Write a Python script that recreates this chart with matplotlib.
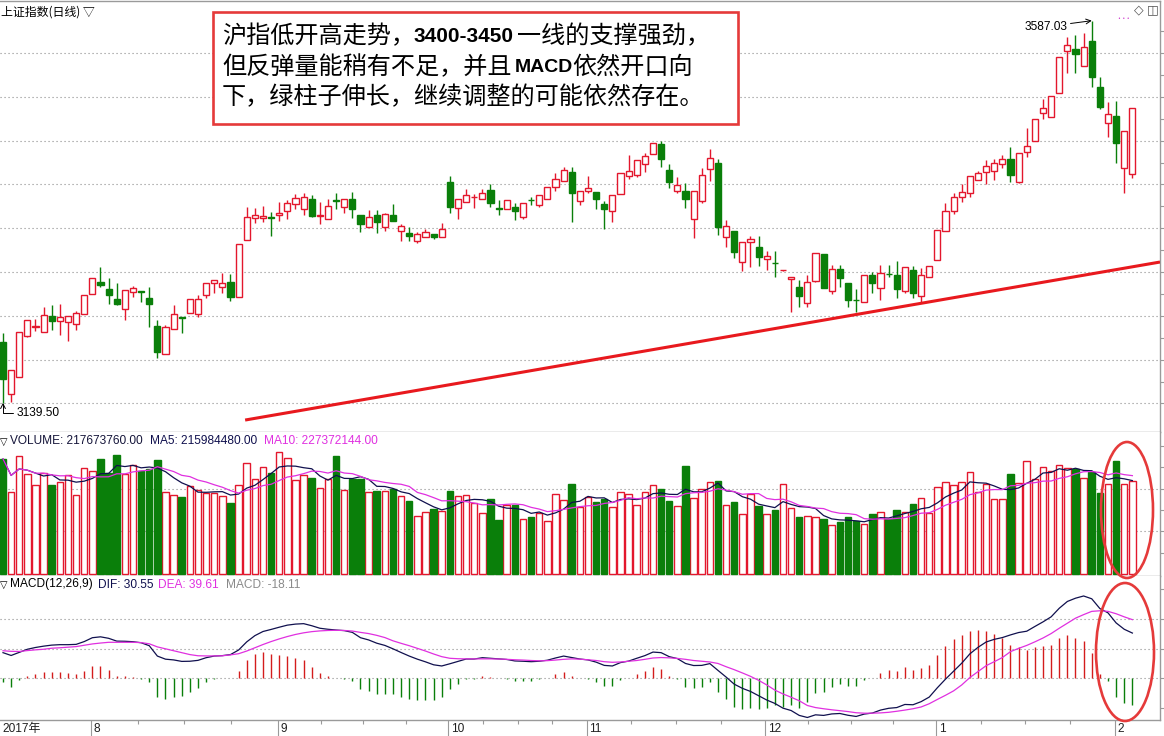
import matplotlib
matplotlib.use("Agg")
import matplotlib.pyplot as plt
from matplotlib.patches import Rectangle, Ellipse
import numpy as np
import pandas as pd

plt.rcParams['font.family'] = ['Liberation Sans', 'Noto Sans CJK SC', 'DejaVu Sans']

# ------------------------------------------------------------------ data
open_ = [3211.0, 3149.3, 3170.0, 3218.0, 3228.5, 3222.0, 3241.1, 3235.6, 3234.4, 3231.4,
         3243.8, 3266.5, 3281.3, 3272.4, 3260.6, 3248.9, 3268.8, 3270.7, 3261.8, 3229.4,
         3196.2, 3225.5, 3239.9, 3245.0, 3243.4, 3265.7, 3279.4, 3275.4, 3280.9, 3263.0,
         3329.8, 3355.5, 3355.5, 3356.7, 3359.4, 3364.1, 3371.9, 3366.1, 3378.1, 3358.2,
         3354.7, 3376.6, 3368.4, 3377.8, 3359.0, 3345.7, 3359.0, 3345.7, 3359.4, 3340.3,
         3338.0, 3329.3, 3334.0, 3336.8, 3333.3, 3398.1, 3367.2, 3375.0, 3380.5, 3378.5,
         3388.3, 3367.2, 3366.8, 3368.4, 3357.4, 3377.0, 3370.8, 3378.5, 3391.9, 3398.9,
         3409.8, 3375.4, 3387.5, 3386.0, 3372.3, 3363.7, 3383.7, 3405.1, 3405.9, 3418.8,
         3430.9, 3442.6, 3412.1, 3387.5, 3387.5, 3355.1, 3376.2, 3412.9, 3419.9, 3333.3,
         3340.3, 3304.3, 3328.1, 3321.5, 3307.5, 3302.8, 3294.4, 3284.1, 3274.7, 3256.0,
         3282.4, 3313.7, 3270.0, 3295.8, 3279.4, 3259.8, 3257.1, 3288.8, 3273.9, 3290.3,
         3289.1, 3270.0, 3294.9, 3264.5, 3287.1, 3306.7, 3341.0, 3364.4, 3380.8, 3385.5,
         3400.4, 3409.4, 3410.6, 3418.8, 3424.6, 3398.4, 3433.6, 3445.8, 3478.5, 3473.9,
         3502.0, 3551.9, 3553.5, 3533.9, 3563.2, 3509.0, 3466.8, 3475.4, 3414.1, 3407.4]
high_ = [3221.5, 3177.8, 3222.3, 3236.4, 3237.6, 3252.0, 3254.0, 3255.2, 3241.1, 3247.0,
         3265.7, 3285.2, 3298.8, 3285.2, 3279.4, 3271.5, 3276.2, 3270.7, 3274.7, 3236.4,
         3230.5, 3253.6, 3239.9, 3260.6, 3265.7, 3279.4, 3283.3, 3291.8, 3290.3, 3325.1,
         3368.4, 3367.6, 3369.9, 3363.3, 3374.6, 3376.4, 3384.0, 3385.5, 3382.8, 3374.3,
         3377.8, 3385.5, 3378.5, 3386.7, 3359.0, 3365.3, 3365.3, 3362.1, 3372.3, 3348.9,
         3345.0, 3339.8, 3343.0, 3336.8, 3349.7, 3405.1, 3377.8, 3389.5, 3384.0, 3389.5,
         3395.4, 3377.0, 3377.0, 3373.8, 3373.1, 3380.8, 3382.5, 3391.9, 3408.9, 3415.3,
         3415.3, 3387.9, 3405.1, 3386.0, 3376.2, 3382.5, 3408.9, 3429.7, 3423.5, 3432.4,
         3444.1, 3446.4, 3419.1, 3403.6, 3397.2, 3387.5, 3414.1, 3436.4, 3424.6, 3353.5,
         3340.3, 3327.4, 3334.8, 3334.8, 3317.2, 3317.2, 3295.5, 3286.8, 3283.3, 3288.8,
         3315.2, 3313.7, 3301.2, 3301.2, 3279.4, 3273.1, 3288.8, 3292.6, 3300.8, 3300.8,
         3305.1, 3298.1, 3300.0, 3296.9, 3299.7, 3341.8, 3373.8, 3385.5, 3395.7, 3405.1,
         3411.3, 3423.8, 3424.6, 3429.7, 3439.4, 3432.4, 3461.0, 3471.5, 3494.9, 3498.8,
         3544.9, 3568.3, 3570.3, 3572.2, 3587.03, 3520.7, 3491.4, 3493.3, 3458.1, 3484.4]
low_ = [3139.5, 3140.3, 3170.0, 3216.8, 3223.9, 3222.0, 3224.7, 3219.2, 3212.2, 3224.7,
        3243.8, 3266.5, 3274.7, 3254.8, 3253.6, 3236.4, 3263.0, 3257.8, 3227.8, 3191.5,
        3196.2, 3225.5, 3220.8, 3244.3, 3240.3, 3262.5, 3267.7, 3267.7, 3258.7, 3263.0,
        3329.8, 3349.7, 3351.6, 3335.2, 3352.7, 3354.4, 3366.1, 3359.4, 3357.4, 3348.5,
        3354.7, 3366.1, 3361.4, 3356.2, 3339.8, 3345.7, 3338.6, 3341.0, 3352.4, 3329.3,
        3329.3, 3327.0, 3334.0, 3330.9, 3333.3, 3362.1, 3354.4, 3375.0, 3367.9, 3378.5,
        3369.1, 3359.4, 3366.8, 3353.5, 3354.4, 3371.1, 3368.4, 3377.8, 3387.2, 3398.9,
        3351.5, 3371.5, 3384.8, 3366.8, 3342.6, 3351.5, 3383.7, 3401.2, 3404.3, 3410.1,
        3430.9, 3416.0, 3391.4, 3385.5, 3367.9, 3332.1, 3373.1, 3399.6, 3336.0, 3322.3,
        3308.7, 3294.2, 3298.8, 3299.7, 3294.9, 3286.4, 3294.2, 3246.1, 3251.3, 3251.3,
        3281.3, 3273.5, 3266.5, 3275.4, 3252.0, 3246.1, 3257.1, 3268.4, 3259.8, 3287.1,
        3262.2, 3267.7, 3262.2, 3256.7, 3287.1, 3306.7, 3341.0, 3360.6, 3375.0, 3380.2,
        3400.4, 3395.4, 3400.4, 3414.1, 3398.4, 3397.2, 3427.0, 3445.8, 3471.5, 3473.9,
        3502.0, 3526.1, 3526.1, 3533.9, 3509.0, 3483.2, 3451.1, 3420.7, 3384.8, 3402.4]
close_ = [3166.9, 3177.8, 3222.0, 3236.4, 3229.4, 3242.3, 3235.6, 3239.5, 3241.1, 3244.3,
          3265.7, 3285.2, 3277.4, 3265.7, 3254.8, 3271.5, 3273.5, 3269.2, 3254.8, 3199.2,
          3228.5, 3243.1, 3238.4, 3260.6, 3260.6, 3279.4, 3283.3, 3280.1, 3263.7, 3325.1,
          3356.7, 3359.4, 3358.2, 3355.5, 3361.4, 3373.8, 3379.0, 3380.2, 3358.6, 3359.0,
          3370.3, 3375.8, 3378.5, 3366.8, 3348.5, 3356.7, 3351.5, 3360.2, 3352.4, 3346.5,
          3335.2, 3337.2, 3339.1, 3334.0, 3342.6, 3369.1, 3377.8, 3382.5, 3380.8, 3385.5,
          3373.8, 3366.8, 3377.0, 3364.4, 3373.1, 3376.6, 3382.5, 3391.9, 3401.9, 3412.1,
          3385.5, 3387.9, 3390.7, 3378.5, 3366.8, 3382.5, 3408.9, 3410.6, 3423.5, 3428.5,
          3444.1, 3425.3, 3398.4, 3394.2, 3378.5, 3387.5, 3406.3, 3425.8, 3345.7, 3346.9,
          3316.4, 3327.4, 3331.3, 3310.5, 3311.4, 3302.6, 3295.3, 3286.8, 3264.9, 3281.3,
          3315.2, 3273.5, 3295.8, 3285.6, 3259.8, 3259.5, 3288.8, 3280.1, 3291.8, 3289.9,
          3273.1, 3298.1, 3268.4, 3288.8, 3299.7, 3341.8, 3364.1, 3380.2, 3386.0, 3405.1,
          3408.9, 3417.2, 3420.7, 3424.6, 3406.6, 3432.4, 3440.6, 3471.5, 3484.4, 3498.8,
          3544.9, 3558.2, 3547.7, 3556.5, 3521.4, 3485.6, 3477.4, 3444.1, 3458.1, 3484.4]

# volume, millions of lots
volume_m = [269.3, 192.8, 276.3, 234.2, 208.4, 235.7, 208.4, 214.6, 231.8, 185.0,
            247.4, 240.4, 269.3, 235.7, 278.6, 234.2, 254.4, 240.4, 245.1, 266.9,
            191.2, 184.2, 180.3, 206.0, 196.7, 189.6, 189.6, 182.6, 166.2, 208.4,
            259.1, 222.4, 249.8, 237.3, 284.9, 270.8, 220.1, 231.8, 224.8, 200.6,
            221.7, 276.3, 196.7, 222.4, 222.4, 191.2, 194.3, 194.3, 199.8, 182.6,
            170.9, 135.8, 145.1, 152.2, 147.5, 194.3, 182.6, 184.2, 165.4, 142.8,
            175.6, 126.4, 160.8, 161.6, 128.8, 132.7, 142.0, 124.8, 187.3, 173.3,
            210.7, 156.1, 181.1, 169.3, 174.8, 156.1, 192.0, 187.3, 161.5, 192.0,
            208.4, 199.8, 171.7, 159.2, 253.7, 177.9, 199.8, 215.4, 218.5, 161.5,
            169.3, 140.5, 186.5, 160.0, 140.5, 149.8, 210.7, 153.7, 134.2, 135.8,
            132.7, 128.0, 114.7, 122.5, 132.7, 124.8, 117.0, 140.5, 145.1, 128.0,
            149.8, 145.1, 163.9, 177.2, 143.6, 202.9, 214.6, 208.4, 214.6, 238.1,
            192.8, 209.9, 175.6, 175.6, 234.2, 212.3, 264.6, 221.7, 249.8, 241.2,
            255.2, 247.4, 245.1, 224.0, 238.1, 190.4, 210.7, 264.6, 210.7, 217.67]

dif = [17.3, 15.4, 17.5, 19.6, 20.8, 21.7, 22.4, 22.7, 22.7, 22.9,
       24.8, 27.4, 28.0, 27.0, 25.1, 25.0, 24.7, 24.0, 22.0, 15.0,
       12.9, 12.4, 11.4, 11.5, 12.1, 13.9, 15.0, 15.3, 16.0, 19.1,
       24.6, 28.8, 31.6, 33.0, 34.5, 35.9, 36.6, 36.9, 35.5, 33.8,
       33.1, 32.6, 32.2, 31.0, 27.4, 25.9, 23.7, 22.2, 19.9, 17.4,
       15.0, 12.9, 11.1, 9.1, 8.3, 9.8, 11.4, 13.0, 13.0, 13.9,
       13.5, 13.1, 12.7, 11.7, 11.5, 11.2, 11.5, 12.2, 13.7, 15.0,
       14.0, 13.0, 12.4, 10.9, 8.7, 8.3, 10.6, 11.6, 13.5, 15.3,
       17.7, 17.3, 14.6, 13.3, 10.0, 8.6, 8.7, 9.9, 5.3, 0.8,
       -4.0, -6.8, -8.9, -11.8, -14.7, -17.0, -20.2, -21.8, -25.1, -26.5,
       -24.7, -25.1, -24.1, -23.8, -25.0, -25.8, -24.2, -23.5, -21.5, -20.3,
       -19.8, -17.7, -17.9, -15.8, -12.7, -6.4, -0.6, 4.8, 10.2, 16.5,
       20.9, 24.5, 26.3, 27.5, 29.3, 30.9, 31.8, 35.0, 38.1, 41.5,
       47.3, 51.9, 54.1, 55.6, 53.7, 47.1, 44.2, 37.4, 33.1, 30.55]
dea = [18.6, 18.2, 18.1, 18.7, 19.2, 19.6, 20.3, 20.6, 21.0, 21.4,
       22.3, 23.2, 23.8, 24.3, 24.3, 24.3, 24.3, 24.1, 23.3, 21.2,
       19.9, 18.6, 17.3, 16.0, 15.2, 15.1, 15.1, 15.2, 15.8, 16.6,
       18.4, 20.6, 22.8, 24.8, 26.6, 28.2, 29.6, 30.7, 31.5, 32.0,
       32.3, 32.4, 32.3, 31.9, 31.0, 30.2, 29.0, 27.5, 25.3, 23.6,
       22.0, 20.2, 18.4, 16.4, 14.6, 13.5, 13.2, 13.1, 13.1, 13.1,
       13.1, 13.0, 12.8, 12.5, 12.3, 12.0, 11.8, 11.9, 12.3, 12.8,
       13.1, 12.9, 12.5, 12.0, 11.2, 10.8, 11.0, 11.5, 12.0, 12.8,
       13.7, 14.0, 13.8, 13.4, 12.8, 12.0, 11.5, 11.0, 10.0, 7.8,
       5.8, 3.6, 1.3, -1.4, -4.5, -8.0, -10.6, -12.8, -15.2, -18.4,
       -19.8, -20.6, -21.3, -21.9, -22.5, -23.3, -23.6, -23.6, -23.4, -23.0,
       -22.3, -21.5, -20.6, -19.4, -17.2, -14.3, -11.5, -8.5, -4.5, 0.5,
       4.5, 8.5, 11.2, 14.0, 18.0, 20.2, 22.2, 24.6, 27.2, 30.2,
       33.8, 37.2, 40.6, 43.0, 45.2, 45.6, 45.2, 43.6, 41.5, 39.61]
macd_bar = [-2.7, -5.6, -1.1, 1.8, 3.2, 4.1, 4.1, 4.1, 3.4, 2.9,
            5.0, 8.3, 8.3, 5.4, 1.6, 1.4, 0.7, -0.3, -2.7, -12.4,
            -14.0, -12.4, -11.9, -9.0, -6.3, -2.3, -0.3, 0.2, 0.3, 5.0,
            12.4, 16.4, 17.6, 16.4, 15.8, 15.3, 14.0, 12.4, 7.9, 3.6,
            1.6, 0.3, -0.2, -1.8, -7.2, -8.6, -10.6, -10.6, -10.8, -12.4,
            -14.0, -14.6, -14.6, -14.6, -12.6, -7.4, -3.6, -0.3, -0.2, 1.6,
            0.7, 0.2, -0.2, -1.6, -1.6, -1.6, -0.7, 0.5, 2.7, 4.3,
            1.8, 0.2, -0.3, -2.3, -5.0, -5.0, -0.9, 0.2, 2.9, 5.0,
            7.9, 6.5, 1.6, -0.3, -5.6, -6.8, -5.6, -2.3, -9.5, -14.0,
            -19.6, -20.7, -20.3, -20.7, -20.3, -18.0, -19.1, -18.0, -19.8, -16.2,
            -9.7, -9.0, -5.6, -3.8, -5.0, -5.0, -1.1, 0.2, 3.8, 5.4,
            5.0, 7.7, 5.4, 7.2, 9.0, 15.8, 21.8, 26.6, 29.3, 32.0,
            32.7, 32.0, 30.2, 27.0, 22.5, 21.4, 19.1, 20.9, 21.8, 22.5,
            27.0, 29.3, 27.0, 25.2, 16.9, 3.0, -2.0, -12.4, -16.9, -18.11]

month_first_idx = [11, 34, 55, 72, 94, 115, 137]
month_labels = ['8', '9', '10', '11', '12', '1', '2']
year_label = '2017年'
title_text = '上证指数(日线) ▽'
vol_header = ['VOLUME: 217673760.00', 'MA5: 215984480.00', 'MA10: 227372144.00']
macd_header = ['MACD(12,26,9)', 'DIF: 30.55', 'DEA: 39.61', 'MACD: -18.11']
peak_label = '3587.03'
low_label = '3139.50'
trend_idx = [29.8, 142.4]
trend_price = [3119.2, 3304.3]
note_line1 = ['沪指低开高走势，', '3400-3450', '一线的支撑强劲，']
note_line2 = ['但反弹量能稍有不足，并且', 'MACD', '依然开口向']
note_line3 = '下，绿柱子伸长，继续调整的可能依然存在。'

# ------------------------------------------------------------------ style
W, H = 1164, 736
RED = '#e3172d'
GREEN = '#0a7f0a'
NAVY = '#10104e'
MAGENTA = '#e030e0'
GRID = '#8c8c8c'
BORDER = '#9a9a9a'
NOTE_RED = '#e53a3a'

fig = plt.figure(figsize=(W / 100, H / 100), dpi=100)
fig.patch.set_facecolor('white')


def fx(px):
    return px / W


def fy(py):
    return 1 - py / H


PLOT_R = 1160
ax1 = fig.add_axes([0, fy(432), fx(PLOT_R), (432 - 1) / H])
ax2 = fig.add_axes([0, fy(576), fx(PLOT_R), (576 - 432) / H])
ax3 = fig.add_axes([0, fy(720), fx(PLOT_R), (720 - 576) / H])

XMIN, XMAX = -0.369, 142.4
for ax in (ax1, ax2, ax3):
    ax.set_xlim(XMIN, XMAX)
    ax.set_facecolor('white')
    ax.spines['left'].set_visible(False)
    for s in ('top', 'bottom', 'right'):
        ax.spines[s].set_color(BORDER)
        ax.spines[s].set_linewidth(1.0)
    ax.tick_params(axis='x', which='both', bottom=False, labelbottom=False)
    ax.tick_params(axis='y', which='both', left=False, labelleft=False,
                   right=True, labelright=False, direction='out',
                   length=3, width=0.8, color=BORDER)
ax2.spines['top'].set_visible(False)
ax3.spines['top'].set_visible(False)

dotted = (0, (1, 2.6))

# ------------------------------------------------------------------ price panel
o = np.array(open_)
h = np.array(high_)
l = np.array(low_)
c = np.array(close_)
n = len(c)
x = np.arange(n)
is_up = c >= o
cols = np.where(is_up, RED, GREEN)

ax1.set_ylim(3105.2, 3610.1)
grid_levels = [3138.7, 3190.0, 3241.3, 3292.6, 3343.9, 3395.2, 3446.5, 3497.8, 3549.2]
for g in grid_levels:
    ax1.axhline(g, color=GRID, lw=0.8, ls=dotted, zorder=1)
ax1.set_yticks(grid_levels + [g + 25.65 for g in grid_levels])

ax1.vlines(x, l, h, colors=cols, linewidth=1.0, zorder=2)
bw = 0.74
for i in range(n):
    bottom = min(o[i], c[i])
    height = abs(c[i] - o[i])
    if is_up[i]:
        rect = Rectangle((i - bw / 2, bottom), bw, height, facecolor='white',
                         edgecolor=RED, linewidth=1.0, zorder=3)
    else:
        rect = Rectangle((i - bw / 2, bottom), bw, height, facecolor=GREEN,
                         edgecolor=GREEN, linewidth=1.0, zorder=3)
    ax1.add_patch(rect)

# support trend line
ax1.plot(trend_idx, trend_price, color='#e8191e', lw=2.2, zorder=4,
         solid_capstyle='butt')

# high / low labels
imax = int(np.argmax(h))
imin = int(np.argmin(l))
ax1.annotate(peak_label, xy=(imax, h[imax]), xytext=(-24, -6),
             textcoords='offset pixels', ha='right', va='center', fontsize=8.6,
             color='black',
             arrowprops=dict(arrowstyle='->', color='black', lw=0.7,
                             shrinkA=0, shrinkB=0))
ax1.annotate(low_label, xy=(imin, l[imin]), xytext=(14, -10),
             textcoords='offset pixels', ha='left', va='center', fontsize=8.6,
             color='black',
             arrowprops=dict(arrowstyle='->', color='black', lw=0.7,
                             shrinkA=1, shrinkB=0,
                             connectionstyle='angle,angleA=180,angleB=90,rad=0'))

# ------------------------------------------------------------------ volume panel
vol = np.array(volume_m)
ax2.set_ylim(-4.7, 332.6)
for g in (100, 200):
    ax2.axhline(g, color=GRID, lw=0.8, ls=dotted, zorder=1)
ax2.set_yticks([50, 100, 150, 200, 250, 300])
vb = 0.8
ax2.bar(x[is_up], vol[is_up], width=vb, facecolor='white', edgecolor=RED,
        linewidth=1.0, zorder=2)
ax2.bar(x[~is_up], vol[~is_up], width=vb, facecolor=GREEN, edgecolor=GREEN,
        linewidth=1.0, zorder=2)
ma5 = pd.Series(vol).rolling(5, min_periods=1).mean()
ma10 = pd.Series(vol).rolling(10, min_periods=1).mean()
ax2.plot(x, ma5, color=NAVY, lw=0.9, zorder=3)
ax2.plot(x, ma10, color=MAGENTA, lw=0.9, zorder=3)

# ------------------------------------------------------------------ MACD panel
mb = np.array(macd_bar)
ax3.set_ylim(-28.2, 69.1)
for g in (0, 20, 40):
    ax3.axhline(g, color=GRID, lw=0.8, ls=dotted, zorder=1)
ax3.set_yticks([-20, 0, 20, 40, 60])
ax3.vlines(x, 0, mb, colors=np.where(mb >= 0, '#d41c1c', GREEN), linewidth=1.0,
           zorder=2)
ax3.plot(x, dif, color=NAVY, lw=0.9, zorder=3)
ax3.plot(x, dea, color=MAGENTA, lw=0.9, zorder=3)

# x axis ticks (months) on the bottom panel
major = [m - 0.17 for m in month_first_idx]
minor = []
for a, b in zip(major[:-1], major[1:]):
    step = (b - a) / 4
    minor += [a + step * k for k in (1, 2, 3)]
ax3.set_xticks(major)
ax3.set_xticks(minor, minor=True)
ax3.tick_params(axis='x', which='major', bottom=True, length=11.5, width=0.8,
                color=BORDER, labelbottom=False)
ax3.tick_params(axis='x', which='minor', bottom=True, length=3, width=0.8,
                color=BORDER, labelbottom=False)
for m, lab in zip(major, month_labels):
    ax3.text(m + 0.35, -0.0625, lab, transform=ax3.get_xaxis_transform(),
             ha='left', va='center', fontsize=8.6, color='#202020')
fig.text(fx(2), fy(729), year_label, ha='left', va='center', fontsize=8.6,
         color='#202020')

# ------------------------------------------------------------------ headers
fig.text(fx(1), fy(12), title_text, ha='left', va='center', fontsize=8.6,
         color='black', family=['Noto Sans CJK SC', 'DejaVu Sans'])

fig.text(fx(0), fy(441.5), '▽', ha='left', va='center', fontsize=7,
         color='black', family=['DejaVu Sans'])
fig.text(fx(10.5), fy(441.5), vol_header[0], ha='left', va='center',
         fontsize=8.6, color='#15153a')
fig.text(fx(150), fy(441.5), vol_header[1], ha='left', va='center',
         fontsize=8.6, color=NAVY)
fig.text(fx(264), fy(441.5), vol_header[2], ha='left', va='center',
         fontsize=8.6, color=MAGENTA)

fig.text(fx(0), fy(584.5), '▽', ha='left', va='center', fontsize=7,
         color='black', family=['DejaVu Sans'])
fig.text(fx(10.5), fy(584.5), macd_header[0], ha='left', va='center',
         fontsize=8.6, color='black')
fig.text(fx(98.5), fy(584.5), macd_header[1], ha='left', va='center',
         fontsize=8.6, color=NAVY)
fig.text(fx(158.5), fy(584.5), macd_header[2], ha='left', va='center',
         fontsize=8.6, color=MAGENTA)
fig.text(fx(225.5), fy(584.5), macd_header[3], ha='left', va='center',
         fontsize=8.6, color='#8a8a8a')

# top-right small icons
fig.text(fx(1139), fy(10), '◇', ha='center', va='center', fontsize=9,
         color='#555555', family=['DejaVu Sans'])
fig.text(fx(1153), fy(10), '◫', ha='center', va='center', fontsize=9,
         color='#555555', family=['DejaVu Sans'])
fig.text(fx(1124), fy(19), '• • •', ha='center', va='center', fontsize=3.5,
         color='#cc33cc', family=['DejaVu Sans'])

# ------------------------------------------------------------------ note box
fig.add_artist(Rectangle((fx(213), fy(124)), fx(738 - 213), (124 - 12) / H,
                         transform=fig.transFigure, facecolor='white',
                         edgecolor=NOTE_RED, linewidth=1.9, zorder=5))
CJK = ['Noto Sans CJK SC']
NOTE_FS = 17.4
y1, y2, y3 = fy(36), fy(67), fy(97)
fig.text(fx(222), y1, note_line1[0], ha='left', va='center', fontsize=NOTE_FS,
         family=CJK, zorder=6)
fig.text(fx(413), y1, note_line1[1], ha='left', va='center', fontsize=15.0,
         family=['Liberation Sans'], fontweight='bold', zorder=6)
fig.text(fx(517), y1, note_line1[2], ha='left', va='center', fontsize=NOTE_FS,
         family=CJK, zorder=6)
fig.text(fx(222), y2, note_line2[0], ha='left', va='center', fontsize=NOTE_FS,
         family=CJK, zorder=6)
fig.text(fx(515), y2, note_line2[1], ha='left', va='center', fontsize=14.0,
         family=['Liberation Sans'], fontweight='bold', zorder=6)
fig.text(fx(572), y2, note_line2[2], ha='left', va='center', fontsize=NOTE_FS,
         family=CJK, zorder=6)
fig.text(fx(222), y3, note_line3, ha='left', va='center', fontsize=NOTE_FS,
         family=CJK, zorder=6)

# ------------------------------------------------------------------ red ellipses
fig.add_artist(Ellipse((fx(1127), fy(510)), 52 / W, 136 / H,
                       transform=fig.transFigure, fill=False,
                       edgecolor=NOTE_RED, linewidth=1.9, zorder=6))
fig.add_artist(Ellipse((fx(1125), fy(652)), 58 / W, 138 / H,
                       transform=fig.transFigure, fill=False,
                       edgecolor=NOTE_RED, linewidth=1.9, zorder=6))

fig.savefig('out.png', dpi=100, facecolor='white')
